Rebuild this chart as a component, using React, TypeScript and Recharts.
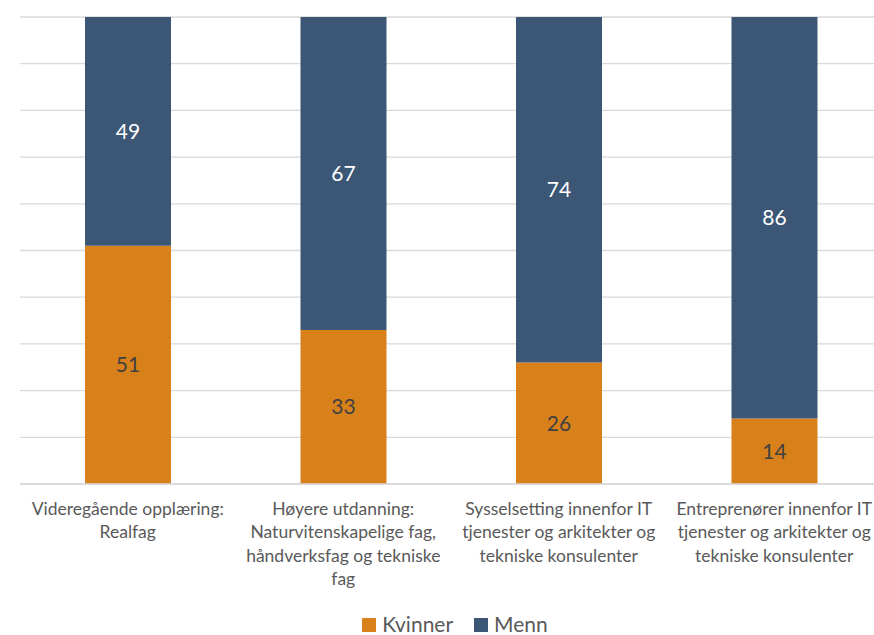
import React from 'react';
import { BarChart, Bar, XAxis, YAxis, CartesianGrid, LabelList } from 'recharts';

const categories = [
  'Videregående opplæring:\nRealfag',
  'Høyere utdanning:\nNaturvitenskapelige fag,\nhåndverksfag og tekniske\nfag',
  'Sysselsetting innenfor IT\ntjenester og arkitekter og\ntekniske konsulenter',
  'Entreprenører innenfor IT\ntjenester og arkitekter og\ntekniske konsulenter',
];
const kvinner = [51, 33, 26, 14];
const menn = [49, 67, 74, 86];
const yTicks = [0, 10, 20, 30, 40, 50, 60, 70, 80, 90, 100];

const series = [
  { key: 'Kvinner', values: kvinner, color: '#D8801A', labelColor: '#404040' },
  { key: 'Menn', values: menn, color: '#3B5775', labelColor: '#ffffff' },
];

const data = categories.map((name, i) => ({
  name,
  Kvinner: kvinner[i],
  Menn: menn[i],
}));

const FONT = 'Lato, "Open Sans", sans-serif';

const CategoryTick = (props: any) => {
  const { x, y, payload } = props;
  const lines: string[] = String(payload.value).split('\n');
  return (
    <text x={x} y={y + 23} textAnchor="middle" fill="#595959" fontSize={17.5} fontFamily={FONT}>
      {lines.map((line, i) => (
        <tspan key={i} x={x} dy={i === 0 ? 0 : 23.3}>{line}</tspan>
      ))}
    </text>
  );
};

export default function App() {
  return (
    <div style={{ position: 'absolute', left: 0, top: 0, width: 874, height: 635, overflow: 'hidden', background: '#fff' }}>
      <BarChart
        width={900}
        height={635}
        data={data}
        margin={{ top: 17, right: 18, bottom: 51, left: 20 }}
        barSize={86}
      >
        <CartesianGrid vertical={false} stroke="#d9d9d9" strokeWidth={1.3} />
        <YAxis hide domain={[0, 100]} ticks={yTicks} />
        <XAxis
          dataKey="name"
          interval={0}
          height={100}
          axisLine={{ stroke: '#d9d9d9', strokeWidth: 1.3 }}
          tickLine={false}
          tick={<CategoryTick />}
        />
        {series.map((s) => (
          <Bar key={s.key} dataKey={s.key} stackId="a" fill={s.color} isAnimationActive={false}>
            <LabelList
              dataKey={s.key}
              position="center"
              fill={s.labelColor}
              fontSize={21}
              fontFamily={FONT}
            />
          </Bar>
        ))}
      </BarChart>
      <div
        style={{
          position: 'absolute',
          top: 611,
          left: 0,
          width: 910,
          display: 'flex',
          justifyContent: 'center',
          gap: 21,
          fontFamily: FONT,
          fontSize: 21,
          color: '#595959',
        }}
      >
        {series.map((s) => (
          <div key={s.key} style={{ display: 'flex', alignItems: 'center', gap: 6 }}>
            <span style={{ width: 14, height: 14, background: s.color, display: 'inline-block', marginTop: 3 }} />
            <span>{s.key}</span>
          </div>
        ))}
      </div>
    </div>
  );
}
